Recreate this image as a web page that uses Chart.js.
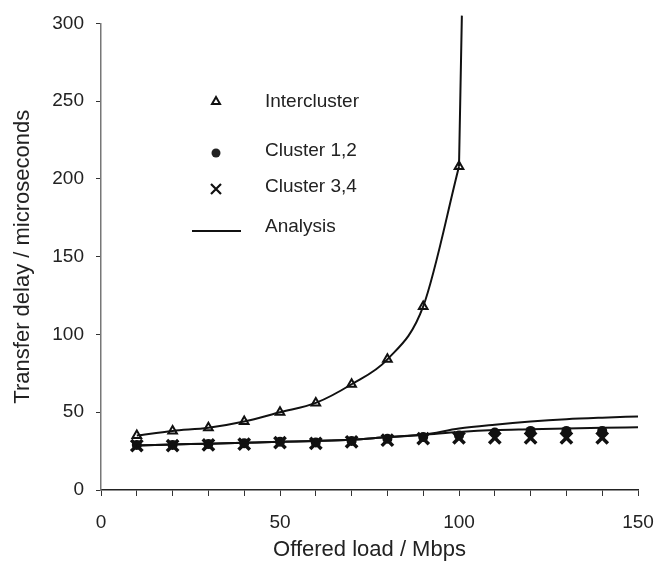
<!DOCTYPE html>
<html>
<head>
<meta charset="utf-8">
<script src="https://cdn.jsdelivr.net/npm/chart.js@4.4.0/dist/chart.umd.min.js"></script>
<style>
  html, body { margin: 0; padding: 0; background: #fff; }
</style>
</head>
<body>
<canvas id="delay-chart" width="655" height="570"></canvas>
<script>
'use strict'
// measured points
const interLoads = [10, 20, 30, 40, 50, 60, 70, 80, 90, 100];
const intercluster = [35, 38, 40, 44, 50, 56, 68, 84, 118, 208];
const clusterLoads = [10, 20, 30, 40, 50, 60, 70, 80, 90, 100, 110, 120, 130, 140];
const cluster12 = [29, 29, 29.5, 30, 31, 30.5, 31.5, 33, 34, 35, 37, 38, 38, 38];
const cluster34 = [28.5, 28.5, 29, 29.5, 30.5, 30, 31, 32, 33, 33.5, 33.5, 33.5, 33.5, 33.5];

// analysis curves
const analysisInterLoads = [10, 20, 30, 40, 50, 60, 70, 80, 90, 100];
const analysisInter = [35, 38, 40, 44, 50, 56, 68, 84, 118, 208];
const asymptoteLoads = [100, 100.8];
const asymptoteDelay = [208, 305];
const analysisLoads = [10, 20, 30, 40, 50, 60, 70, 80, 90, 100, 110, 120, 130, 140, 150];
const analysis12 = [28.6, 29.2, 29.8, 30.4, 31, 31.5, 32.3, 34, 35.5, 39.5, 42, 44, 45.5, 46.5, 47.3];
const analysis34 = [28.6, 29.2, 29.8, 30.4, 31, 31.5, 32.3, 34, 35.5, 37.3, 38.5, 39, 39.5, 40, 40.3];

const xLabels = [0, 50, 100, 150];
const yLabels = [0, 50, 100, 150, 200, 250, 300];

function pts(xs, ys) {
  return xs.map(function (x, i) { return { x: x, y: ys[i] }; });
}

const FONT = "'Liberation Sans', Arial, sans-serif";

// legend drawn inside the plot, like the original figure
const insideLegend = {
  id: 'insideLegend',
  afterDraw: function (chart) {
    const ctx = chart.ctx;
    ctx.save();
    ctx.fillStyle = '#222';
    ctx.strokeStyle = '#111';
    ctx.font = '19px ' + FONT;
    ctx.textBaseline = 'middle';
    const mx = 216, tx = 265;
    // triangle
    ctx.lineWidth = 2;
    ctx.beginPath();
    ctx.moveTo(mx, 97); ctx.lineTo(mx + 4, 104); ctx.lineTo(mx - 4, 104); ctx.closePath();
    ctx.fillStyle = '#fff'; ctx.fill(); ctx.stroke();
    ctx.fillStyle = '#222';
    ctx.fillText('Intercluster', tx, 102);
    // dot
    ctx.beginPath();
    ctx.arc(mx, 153, 4.5, 0, Math.PI * 2);
    ctx.fill();
    ctx.fillText('Cluster 1,2', tx, 151);
    // cross
    ctx.lineWidth = 2.2;
    ctx.beginPath();
    ctx.moveTo(mx - 5, 184); ctx.lineTo(mx + 5, 194);
    ctx.moveTo(mx + 5, 184); ctx.lineTo(mx - 5, 194);
    ctx.stroke();
    ctx.fillText('Cluster 3,4', tx, 187);
    // line
    ctx.lineWidth = 2;
    ctx.beginPath();
    ctx.moveTo(192, 231); ctx.lineTo(241, 231);
    ctx.stroke();
    ctx.fillText('Analysis', tx, 227);
    ctx.restore();
  }
};

const lineStyle = {
  showLine: true,
  borderColor: '#111',
  borderWidth: 2,
  pointRadius: 0,
  cubicInterpolationMode: 'monotone',
  fill: false
};

const context = document.querySelector('#delay-chart').getContext('2d');
new Chart(context, {
  type: 'scatter',
  data: {
    datasets: [
      Object.assign({ label: 'Analysis (intercluster)', data: pts(analysisInterLoads, analysisInter) }, lineStyle),
      Object.assign({ label: 'Analysis (saturation)', data: pts(asymptoteLoads, asymptoteDelay), clip: false }, lineStyle),
      Object.assign({ label: 'Analysis (cluster 1,2)', data: pts(analysisLoads, analysis12) }, lineStyle),
      Object.assign({ label: 'Analysis (cluster 3,4)', data: pts(analysisLoads, analysis34) }, lineStyle),
      {
        label: 'Intercluster',
        data: pts(interLoads, intercluster),
        pointStyle: 'triangle',
        pointRadius: 5,
        pointBorderWidth: 2,
        pointBackgroundColor: '#fff',
        pointBorderColor: '#111'
      },
      {
        label: 'Cluster 1,2',
        data: pts(clusterLoads, cluster12),
        pointStyle: 'circle',
        pointRadius: 5,
        pointBorderWidth: 0,
        pointBackgroundColor: '#111',
        pointBorderColor: '#111'
      },
      {
        label: 'Cluster 3,4',
        data: pts(clusterLoads, cluster34),
        pointStyle: 'crossRot',
        pointRadius: 8,
        pointBorderWidth: 3.5,
        pointBorderColor: '#111'
      }
    ]
  },
  options: {
    responsive: false,
    animation: false,
    layout: { padding: { left: 10, right: 17, top: 22, bottom: 7 } },
    plugins: {
      legend: { display: false },
      tooltip: { enabled: false }
    },
    scales: {
      x: {
        type: 'linear',
        min: 0,
        max: 150,
        afterFit: function (scale) {
          scale.height = 73;
          scale.paddingLeft = 0;
          scale.paddingRight = 0;
        },
        border: { display: true, color: '#222', width: 1.5 },
        grid: { display: true, drawOnChartArea: false, drawTicks: true, tickLength: 6, color: '#333' },
        ticks: {
          stepSize: 10,
          autoSkip: false,
          maxRotation: 0,
          padding: 15,
          color: '#222',
          font: { family: FONT, size: 19 },
          callback: function (v) { return xLabels.indexOf(v) >= 0 ? String(v) : ''; }
        },
        title: {
          display: true,
          text: 'Offered load / Mbps',
          color: '#222',
          font: { family: FONT, size: 22 },
          padding: { top: 0, bottom: 0 }
        }
      },
      y: {
        type: 'linear',
        min: 0,
        max: 300,
        afterFit: function (scale) { scale.width = 91; },
        border: { display: true, color: '#777', width: 1.5 },
        grid: { display: true, drawOnChartArea: false, drawTicks: true, tickLength: 5, color: '#333' },
        ticks: {
          stepSize: 50,
          padding: 12,
          color: '#222',
          font: { family: FONT, size: 19 },
          callback: function (v) { return yLabels.indexOf(v) >= 0 ? String(v) : ''; }
        },
        title: {
          display: true,
          text: 'Transfer delay / microseconds',
          color: '#222',
          font: { family: FONT, size: 22 },
          padding: { top: 0, bottom: 0 }
        }
      }
    }
  },
  plugins: [insideLegend]
});
</script>
</body>
</html>
